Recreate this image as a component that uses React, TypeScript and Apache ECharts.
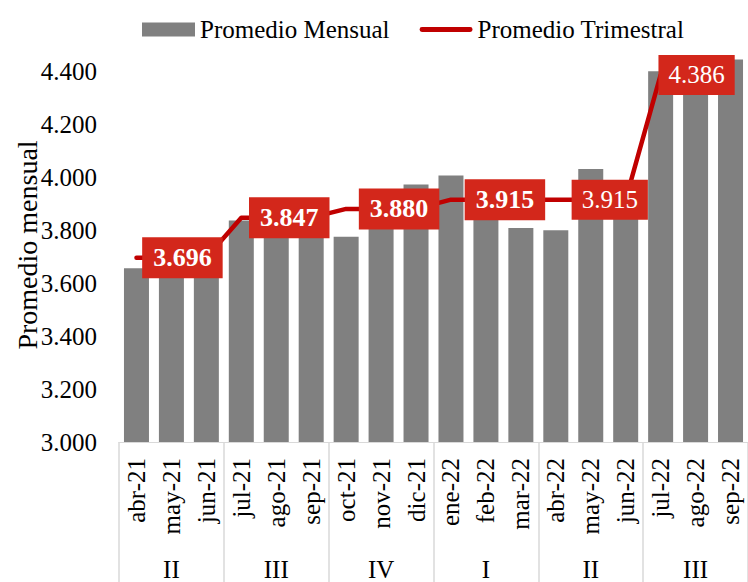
import React, { useEffect, useRef } from "react";
import * as echarts from "echarts";

const months = [
  "abr-21", "may-21", "jun-21", "jul-21", "ago-21", "sep-21",
  "oct-21", "nov-21", "dic-21", "ene-22", "feb-22", "mar-22",
  "abr-22", "may-22", "jun-22", "jul-22", "ago-22", "sep-22",
];
const monthlyAvg = [
  3656, 3710, 3722, 3836, 3858, 3847,
  3775, 3891, 3972, 4006, 3930, 3808,
  3799, 4031, 3915, 4400, 4322, 4444,
];
const quarters = ["II", "III", "IV", "I", "II", "III"];
const quarterAvg = [3696, 3847, 3880, 3915, 3915, 4386];
const quarterLabelText = ["3.696", "3.847", "3.880", "3.915", "3.915", "4.386"];
const quarterLabelBold = [true, true, true, true, false, false];
const quarterLabelShift = [11, 13, 18, 19, 19, 1];
const yTicks = { min: 3000, max: 4600, interval: 200 };

const FONT = "Liberation Serif";
const RED_LINE = "#c00000";
const RED_BOX = "#d3271b";
const GRAY = "#808080";
const SEP = "#d9d9d9";

export default function App() {
  const ref = useRef<HTMLDivElement>(null);
  useEffect(() => {
    document.body.style.margin = "0";
    if (!ref.current) return;
    const chart = echarts.init(ref.current, undefined, { renderer: "svg" });

    const lineData = months.map((_, i) => {
      const q = Math.floor(i / 3);
      const item: any = { value: quarterAvg[q] };
      if (i % 3 === 1) {
        item.label = {
          show: true,
          position: "inside",
          offset: [quarterLabelShift[q], 0],
          formatter: quarterLabelText[q],
          color: "#ffffff",
          fontFamily: FONT,
          fontSize: quarterLabelBold[q] ? 26 : 25,
          fontWeight: quarterLabelBold[q] ? "bold" : "normal",
          backgroundColor: RED_BOX,
          padding: quarterLabelBold[q] ? [8, 11, 7, 11] : [8, 10, 7, 10],
        };
      }
      return item;
    });

    chart.setOption({
      animation: false,
      textStyle: { fontFamily: FONT, color: "#000" },
      legend: {
        left: 137,
        top: 12,
        itemWidth: 53,
        itemHeight: 14,
        itemGap: 30,
        textStyle: { fontFamily: FONT, fontSize: 25, color: "#000" },
        data: [
          { name: "Promedio Mensual", icon: "rect" },
          {
            name: "Promedio Trimestral",
            icon: "path://M2.5,0 L52.5,0 A2.5,2.5 0 0 1 52.5,5 L2.5,5 A2.5,2.5 0 0 1 2.5,0 Z",
            itemStyle: { color: RED_LINE },
          },
        ],
      },
      grid: { left: 119, top: 18.2, width: 636, bottom: 136, containLabel: false },
      graphic: [
        {
          type: "text",
          x: 27,
          y: 245,
          rotation: Math.PI / 2,
          style: {
            text: "Promedio mensual",
            font: `28px "${FONT}"`,
            fill: "#000",
            align: "center",
            verticalAlign: "middle",
          },
        },
      ],
      xAxis: [
        {
          type: "category",
          data: months,
          position: "bottom",
          axisLine: { show: true, lineStyle: { color: SEP, width: 1 } },
          axisTick: { show: false },
          axisLabel: {
            interval: 0,
            rotate: 90,
            margin: 16,
            fontSize: 25,
            fontFamily: FONT,
            color: "#000",
          },
        },
        {
          type: "category",
          data: quarters,
          position: "bottom",
          axisLine: { show: false },
          axisTick: {
            show: true,
            interval: 0,
            length: 140,
            lineStyle: { color: SEP, width: 1.5 },
          },
          axisLabel: {
            interval: 0,
            margin: 115,
            fontSize: 25,
            fontFamily: FONT,
            color: "#000",
          },
        },
      ],
      yAxis: {
        type: "value",
        min: yTicks.min,
        max: yTicks.max,
        interval: yTicks.interval,
        axisLine: { show: false },
        axisTick: { show: false },
        splitLine: { show: false },
        axisLabel: {
          margin: 22,
          fontSize: 25,
          fontFamily: FONT,
          color: "#000",
          formatter: (v: number) => (v >= yTicks.max ? "" : (v / 1000).toFixed(3)),
        },
      },
      series: [
        {
          name: "Promedio Mensual",
          type: "bar",
          xAxisIndex: 0,
          data: monthlyAvg,
          barWidth: 25,
          itemStyle: { color: GRAY },
          z: 2,
        },
        {
          name: "Promedio Trimestral",
          type: "line",
          xAxisIndex: 0,
          data: lineData,
          symbol: "circle",
          symbolSize: 0,
          showSymbol: true,
          lineStyle: { color: RED_LINE, width: 4.5, cap: "round", join: "round" },
          itemStyle: { color: RED_LINE },
          label: { show: false },
          z: 3,
        },
      ],
    });
    return () => chart.dispose();
  }, []);
  return <div ref={ref} style={{ width: 748, height: 582 }} />;
}
